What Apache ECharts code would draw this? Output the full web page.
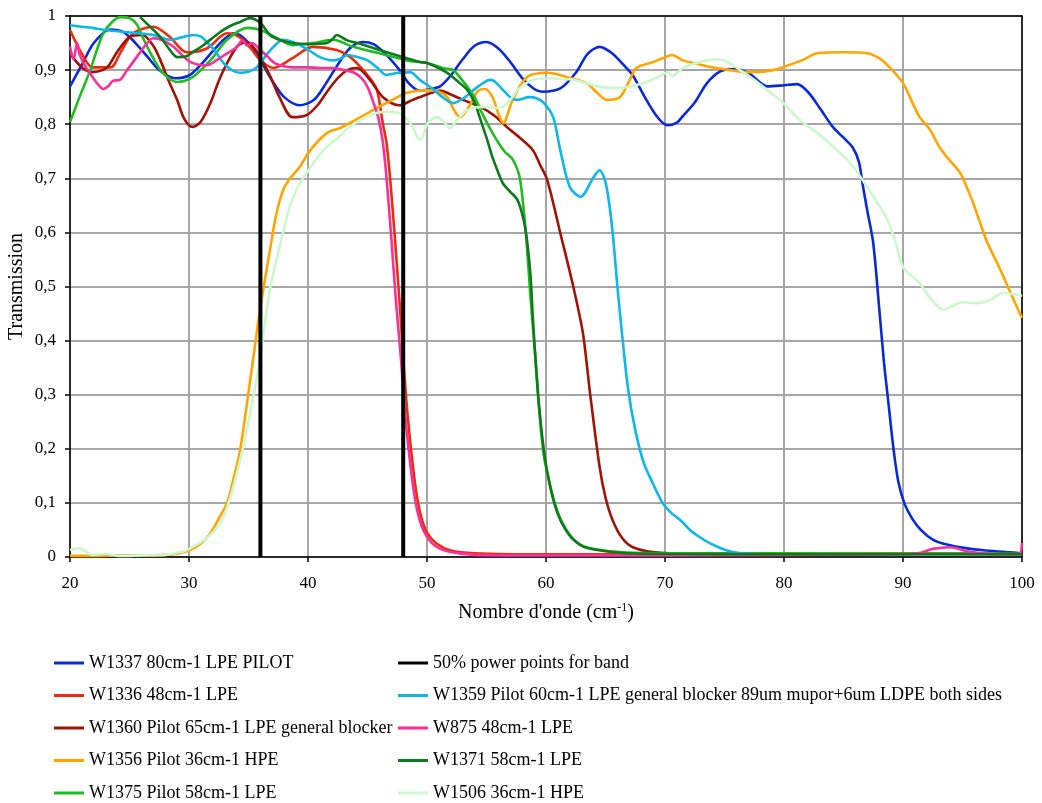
<!DOCTYPE html>
<html><head><meta charset="utf-8">
<script src="https://cdn.jsdelivr.net/npm/echarts@6/dist/echarts.min.js"></script>
<style>html,body{margin:0;padding:0;background:#fff}#c{width:1042px;height:803px}</style>
</head><body><div id="c"></div>
<script>
const xTicks = [20,30,40,50,60,70,80,90,100];
const yTickLabels = ['0','0,1','0,2','0,3','0,4','0,5','0,6','0,7','0,8','0,9','1'];
const bandEdges = [36, 48];

const w1337 = [[20,0.87],[21,0.91],[22,0.95],[23.4,0.975],[24.5,0.97],[25.5,0.95],[26.5,0.925],[27.5,0.9],[28.8,0.885],[30,0.89],[31,0.91],[32,0.935],[33,0.958],[33.8,0.968],[34.8,0.955],[36,0.918],[37,0.88],[38,0.85],[39.3,0.835],[40.5,0.845],[41.5,0.875],[42.5,0.91],[43.5,0.94],[44.6,0.952],[45.5,0.948],[46.5,0.93],[47.7,0.90],[48.5,0.875],[49.4,0.862],[50.3,0.865],[51.1,0.87],[52,0.89],[53,0.92],[54,0.945],[55,0.952],[56,0.94],[57,0.915],[58,0.885],[59,0.865],[59.7,0.86],[61.2,0.866],[62.5,0.895],[63.5,0.93],[64.5,0.943],[65.5,0.932],[66.5,0.91],[67.3,0.89],[68.3,0.85],[69.3,0.815],[70.2,0.798],[71,0.803],[71.5,0.815],[72.5,0.84],[73.5,0.875],[74.6,0.897],[75.7,0.902],[77,0.895],[78.6,0.87],[80,0.872],[81.1,0.874],[82,0.86],[83,0.83],[84.1,0.795],[85,0.775],[85.8,0.756],[86.3,0.73],[86.6,0.69],[87,0.64],[87.5,0.58],[88,0.46],[88.4,0.36],[88.8,0.28],[89.2,0.2],[89.6,0.14],[90.1,0.1],[90.8,0.07],[91.5,0.05],[92.5,0.032],[93.5,0.024],[95.4,0.016],[97,0.012],[98.7,0.009],[100,0.007]];

const w1336 = [[20,0.974],[21,0.93],[21.9,0.905],[23.4,0.905],[24.3,0.935],[25.3,0.968],[27,0.98],[28.4,0.961],[29.8,0.933],[31.5,0.94],[33.2,0.968],[34.3,0.96],[35.2,0.94],[36,0.918],[37.1,0.904],[38.7,0.922],[40.4,0.943],[42.4,0.937],[43.5,0.925],[44.4,0.906],[45.2,0.885],[45.8,0.863],[46.3,0.80],[46.6,0.765],[46.9,0.70],[47.3,0.59],[47.7,0.47],[48.0,0.37],[48.3,0.28],[48.7,0.19],[49.1,0.12],[49.5,0.075],[50,0.045],[50.8,0.025],[52,0.012],[54,0.007],[60,0.005],[70,0.005],[80,0.005],[90,0.006],[100,0.005]];

const w1360 = [[20,0.93],[21,0.905],[21.9,0.896],[23.1,0.905],[24,0.935],[25,0.961],[26.1,0.965],[27,0.945],[27.6,0.918],[28.3,0.88],[29,0.845],[29.6,0.81],[30.3,0.795],[31,0.805],[31.8,0.839],[32.5,0.88],[33.2,0.913],[34.1,0.945],[34.9,0.952],[35.5,0.94],[36,0.924],[36.8,0.89],[37.6,0.85],[38.7,0.813],[39.9,0.817],[40.8,0.835],[41.6,0.86],[42.5,0.885],[43.3,0.90],[44.1,0.904],[45.2,0.882],[46.3,0.85],[47.7,0.835],[48.8,0.845],[50,0.855],[51.1,0.862],[52,0.855],[53,0.845],[54.5,0.832],[55.7,0.815],[56.7,0.795],[57.8,0.775],[58.9,0.752],[59.5,0.725],[60.1,0.697],[61.2,0.599],[62.3,0.499],[63.1,0.414],[63.7,0.303],[64.5,0.167],[65,0.11],[65.6,0.068],[66.4,0.035],[67.3,0.018],[69,0.009],[72,0.006],[80,0.006],[90,0.006],[100,0.006]];

const w1356 = [[20,0.002],[22,0.002],[24,0.003],[26,0.003],[28,0.004],[29,0.006],[30.1,0.013],[31,0.025],[31.8,0.044],[32.6,0.075],[33.2,0.10],[33.8,0.15],[34.3,0.198],[35.1,0.32],[35.6,0.40],[36,0.462],[36.8,0.567],[37.3,0.63],[37.9,0.678],[38.5,0.70],[39.3,0.721],[40.2,0.752],[41.6,0.784],[42.7,0.793],[44.4,0.813],[45.8,0.83],[47.1,0.845],[48.3,0.858],[50,0.863],[51,0.86],[51.7,0.85],[52.3,0.825],[52.8,0.813],[53.6,0.835],[54.3,0.862],[54.9,0.865],[55.5,0.85],[56,0.82],[56.4,0.802],[57.2,0.845],[58.4,0.887],[60.1,0.895],[61.8,0.887],[63.4,0.876],[64.3,0.858],[65.1,0.845],[66.2,0.85],[67,0.88],[67.6,0.904],[69,0.915],[69.8,0.922],[70.6,0.928],[71.5,0.918],[73,0.91],[74.3,0.904],[77.1,0.896],[79.1,0.90],[80.5,0.91],[81.5,0.918],[82.8,0.931],[85,0.933],[87,0.931],[88,0.922],[88.7,0.909],[90,0.876],[91,0.83],[91.4,0.813],[92.3,0.789],[93,0.76],[93.7,0.739],[94.8,0.71],[95.9,0.654],[97,0.586],[98.2,0.53],[99,0.49],[100,0.442]];

const w1375 = [[20,0.804],[20.8,0.85],[21.7,0.90],[22.3,0.94],[22.8,0.968],[23.5,0.988],[24.2,0.998],[25,0.996],[25.6,0.985],[26.1,0.961],[26.8,0.93],[27.6,0.90],[28.3,0.885],[29,0.878],[30.3,0.887],[31.8,0.918],[33.2,0.956],[34.9,0.978],[36,0.974],[37.4,0.959],[38.7,0.946],[40.4,0.95],[42.1,0.956],[43.8,0.943],[46,0.931],[48.3,0.918],[50,0.913],[51.5,0.903],[52.2,0.90],[53,0.88],[53.4,0.869],[54,0.85],[54.5,0.826],[55.5,0.784],[56.5,0.75],[57.2,0.735],[57.8,0.70],[58.3,0.60],[58.7,0.48],[59.1,0.37],[59.4,0.28],[59.8,0.19],[60.3,0.137],[60.8,0.095],[61.4,0.062],[62.3,0.033],[63.4,0.018],[66.2,0.009],[70,0.007],[80,0.007],[90,0.006],[100,0.006]];

const w1359 = [[20,0.983],[21,0.98],[21.9,0.978],[23,0.974],[24.8,0.97],[27,0.965],[28.4,0.956],[29.3,0.96],[30.3,0.965],[31,0.962],[31.5,0.952],[32.2,0.935],[32.9,0.913],[33.6,0.9],[34.3,0.895],[35,0.897],[35.7,0.905],[36.4,0.925],[37.1,0.943],[37.9,0.956],[38.6,0.953],[39.3,0.946],[40.2,0.935],[41,0.924],[42.1,0.918],[42.8,0.922],[43.3,0.928],[44,0.925],[45,0.918],[45.8,0.905],[46.6,0.891],[47.6,0.895],[48.6,0.896],[49.4,0.882],[50.5,0.865],[51.3,0.85],[52.2,0.839],[53.2,0.85],[53.9,0.863],[55,0.88],[55.4,0.882],[56.4,0.863],[57.1,0.848],[57.6,0.845],[58.6,0.85],[59.2,0.848],[59.8,0.84],[60.6,0.813],[61.2,0.752],[62,0.684],[62.9,0.666],[64,0.702],[64.5,0.715],[64.9,0.70],[65.2,0.67],[65.6,0.60],[66.0,0.50],[66.4,0.41],[66.9,0.31],[67.5,0.235],[68.2,0.175],[69,0.135],[69.8,0.10],[70.5,0.082],[71.3,0.068],[72.1,0.05],[72.9,0.037],[73.8,0.025],[74.6,0.017],[75.7,0.009],[77,0.006],[80,0.005],[90,0.005],[100,0.005]];

const w875 = [[20,0.943],[20.3,0.92],[20.6,0.95],[20.8,0.93],[21.2,0.91],[21.5,0.9],[21.9,0.887],[22.3,0.875],[22.8,0.865],[23.2,0.87],[23.6,0.88],[24.2,0.882],[24.8,0.9],[25.6,0.924],[26.3,0.945],[27,0.959],[27.8,0.955],[28.7,0.943],[29.4,0.928],[30.1,0.915],[30.8,0.91],[31.5,0.909],[32.3,0.918],[33.2,0.931],[34,0.942],[34.5,0.955],[34.9,0.945],[35.3,0.95],[36,0.937],[36.6,0.925],[37.2,0.913],[38,0.907],[38.7,0.905],[40,0.905],[41,0.904],[42.1,0.904],[43,0.9],[43.8,0.896],[44.5,0.885],[45,0.869],[45.5,0.84],[45.9,0.813],[46.3,0.765],[46.6,0.70],[47,0.59],[47.4,0.47],[47.8,0.37],[48.1,0.28],[48.5,0.19],[48.9,0.12],[49.3,0.075],[49.8,0.045],[50.6,0.022],[51.8,0.01],[54,0.004],[60,0.003],[70,0.003],[80,0.004],[90,0.005],[91.5,0.008],[92.5,0.015],[94,0.018],[95.5,0.01],[97,0.006],[99,0.005],[99.8,0.006],[100,0.026]];

const w1371 = [[25.9,0.998],[26.5,0.985],[27.6,0.961],[28.3,0.94],[29,0.924],[29.7,0.925],[30.3,0.933],[31.2,0.946],[32.6,0.97],[33.5,0.982],[34.3,0.989],[35.1,0.996],[36,0.987],[36.8,0.965],[37.7,0.955],[38.7,0.95],[40,0.948],[41.6,0.95],[42.1,0.958],[42.4,0.965],[43.3,0.955],[44.5,0.948],[46,0.937],[48.3,0.922],[49.4,0.915],[50,0.913],[51.7,0.895],[52.8,0.875],[53.4,0.863],[54,0.84],[54.5,0.808],[55,0.775],[55.5,0.739],[56,0.71],[56.4,0.69],[57,0.675],[57.6,0.66],[58.1,0.625],[58.4,0.586],[58.7,0.52],[58.9,0.44],[59.2,0.34],[59.5,0.26],[59.9,0.185],[60.3,0.135],[60.8,0.092],[61.4,0.06],[62.3,0.032],[63.4,0.017],[66.2,0.008],[70,0.006],[80,0.005],[90,0.005],[100,0.005]];

const w1506 = [[20,0.013],[20.8,0.016],[21.9,0.004],[23,0.006],[24,0.002],[26,0.003],[28,0.004],[29.5,0.01],[30.1,0.016],[31.5,0.035],[32.6,0.062],[33.4,0.105],[34.5,0.198],[35.4,0.296],[36,0.37],[36.8,0.494],[37.9,0.599],[38.5,0.65],[39.3,0.69],[40.2,0.72],[41.3,0.752],[42.5,0.775],[43.5,0.795],[45.2,0.817],[46.6,0.823],[47.7,0.82],[48.3,0.81],[48.8,0.795],[49.2,0.775],[49.5,0.772],[50,0.80],[50.8,0.813],[51.4,0.805],[51.9,0.793],[52.6,0.81],[53.4,0.826],[54.7,0.832],[56.1,0.83],[57,0.845],[57.6,0.863],[58.9,0.882],[60.3,0.885],[62.3,0.882],[64.5,0.869],[66.2,0.867],[68.2,0.876],[69.5,0.888],[70.2,0.896],[70.6,0.889],[71.5,0.904],[72.5,0.912],[73.5,0.918],[74.6,0.92],[75.5,0.912],[76.3,0.90],[77.5,0.882],[78.6,0.863],[79.9,0.84],[81.3,0.808],[82.8,0.784],[84.7,0.747],[85.7,0.725],[86.6,0.697],[87.7,0.66],[88.7,0.623],[89.4,0.58],[90,0.536],[90.7,0.52],[91.4,0.506],[92.4,0.475],[93.4,0.457],[94.2,0.465],[95,0.471],[96.2,0.469],[97.3,0.475],[98.4,0.488],[100,0.483]];

const seriesDefs = [
  {name:'W1337 80cm-1 LPE PILOT', data:w1337, color:'#0a2ad8'},
  {name:'W1336 48cm-1 LPE', data:w1336, color:'#ee2c0c'},
  {name:'W1360 Pilot 65cm-1 LPE general blocker', data:w1360, color:'#a01408'},
  {name:'W1356 Pilot 36cm-1 HPE', data:w1356, color:'#ffa500'},
  {name:'W1375 Pilot 58cm-1 LPE', data:w1375, color:'#22bb22'},
  {name:'W1359 Pilot 60cm-1 LPE general blocker 89um mupor+6um LDPE both sides', data:w1359, color:'#0bb8e8'},
  {name:'W875 48cm-1 LPE', data:w875, color:'#f8309a'},
  {name:'W1371 58cm-1 LPE', data:w1371, color:'#0e7a1e'},
  {name:'W1506 36cm-1 HPE', data:w1506, color:'#ccf8cc'}
];
const bandName = '50% power points for band';

const FONT = 'Liberation Serif';
const series = seriesDefs.map(s => ({
  type:'line', name:s.name, data:s.data, showSymbol:false, symbol:'none',
  smooth:0.3, lineStyle:{width:2.6, color:s.color}, itemStyle:{color:s.color}, z:2
}));
bandEdges.forEach(x => series.push({
  type:'line', name:bandName, data:[[x,0],[x,1]], showSymbol:false, symbol:'none',
  lineStyle:{width:4, color:'#000'}, itemStyle:{color:'#000'}, z:5
}));

const chart = echarts.init(document.getElementById('c'), null, {renderer:'canvas'});
const legendCommon = {
  orient:'vertical', icon:'rect', itemWidth:30, itemHeight:3, itemGap:14.5, padding:0, height:220,
  textStyle:{fontFamily:FONT, fontSize:18, color:'#000'}, selectedMode:false
};
chart.setOption({
  animation:false,
  backgroundColor:'#fff',
  grid:{left:70, right:20, top:16, bottom:246, outerBoundsMode:'none', containLabel:false},
  legend:[
    Object.assign({left:54, top:654, data:seriesDefs.slice(0,5).map(s=>s.name)}, legendCommon),
    Object.assign({left:398, top:654, data:[bandName].concat(seriesDefs.slice(5).map(s=>s.name))}, legendCommon)
  ],
  xAxis:[{
    type:'value', min:20, max:100, interval:10,
    name:"Nombre d'onde (cm{sup|-1})", nameLocation:'middle', nameGap:45, nameMoveOverlap:false,
    nameTextStyle:{fontFamily:FONT, fontSize:20, color:'#000', rich:{sup:{fontFamily:FONT, fontSize:12, verticalAlign:'top', padding:[0,0,9,0], color:'#000'}}},
    axisLine:{lineStyle:{color:'#000', width:1.5}},
    axisTick:{show:true, inside:false, length:5, lineStyle:{color:'#000', width:1.5}},
    axisLabel:{fontFamily:FONT, fontSize:17, color:'#000', margin:18, formatter:v=>String(v)},
    splitLine:{show:true, lineStyle:{color:'#a6a6a6', width:2}}
  },{
    type:'value', min:20, max:100, position:'top', axisLine:{show:true, onZero:false, lineStyle:{color:'#000', width:1.5}},
    axisTick:{show:false}, axisLabel:{show:false}, splitLine:{show:false}
  }],
  yAxis:[{
    type:'value', min:0, max:1, interval:0.1,
    name:'Transmission', nameLocation:'middle', nameGap:43, nameMoveOverlap:false,
    nameTextStyle:{fontFamily:FONT, fontSize:20, color:'#000'},
    axisLine:{show:true, lineStyle:{color:'#000', width:1.5}},
    axisTick:{show:true, inside:false, length:5, lineStyle:{color:'#000', width:1.5}},
    axisLabel:{fontFamily:FONT, fontSize:17, color:'#000', margin:14,
      formatter:v=>yTickLabels[Math.round(v*10)]},
    splitLine:{show:true, lineStyle:{color:'#a6a6a6', width:2}}
  },{
    type:'value', min:0, max:1, position:'right', axisLine:{show:true, onZero:false, lineStyle:{color:'#000', width:1.5}},
    axisTick:{show:false}, axisLabel:{show:false}, splitLine:{show:false}
  }],
  series:series
});
</script></body></html>
